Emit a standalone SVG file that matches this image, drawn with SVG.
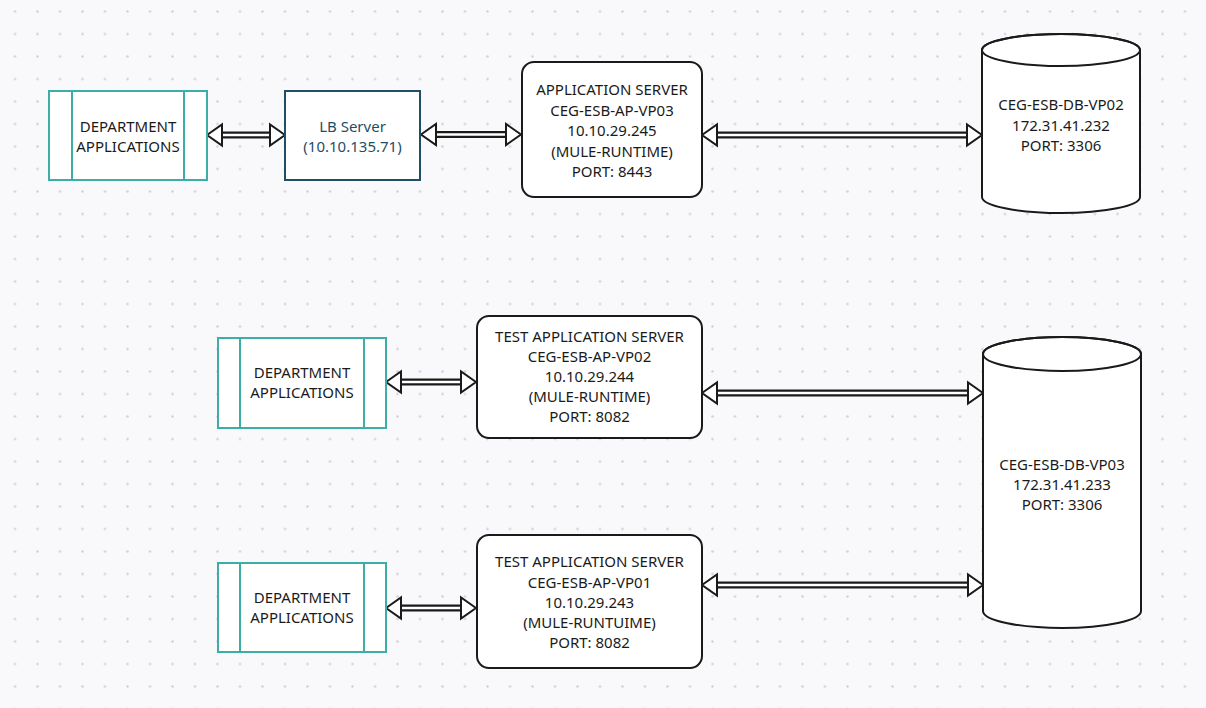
<svg xmlns="http://www.w3.org/2000/svg" width="1206" height="708" viewBox="0 0 1206 708">
<defs>
<pattern id="grid" x="3.75" y="0.25" width="22.5" height="22.5" patternUnits="userSpaceOnUse">
<circle cx="11.25" cy="11.25" r="1.2" fill="#d0d0d6"/>
</pattern>
<style>
.t{font-family:"Noto Sans","Open Sans","DejaVu Sans",sans-serif;font-size:15px;fill:#1a1a1a;text-anchor:middle}
.lb{fill:#1f4e66}
.dept{fill:#fff;stroke:#3aaea7;stroke-width:2}
.deptl{stroke:#3aaea7;stroke-width:2;fill:none}
.srv{fill:#fff;stroke:#1a1a1a;stroke-width:2}
.lbbox{fill:#fff;stroke:#1f4e66;stroke-width:2}
.so{stroke:#1a1a1a;stroke-width:7;fill:none}
.si{stroke:#fff;stroke-width:2.6;fill:none}
.hd{fill:#fff;stroke:#1a1a1a;stroke-width:2;stroke-linejoin:miter}
</style>
</defs>
<rect width="1206" height="708" fill="#f9f9fb"/>
<rect width="1206" height="708" fill="url(#grid)"/>

<g id="connectors">
<g id="c1">
<path class="so" d="M222,135 H270"/><path class="si" d="M221,135 H271"/>
<polygon class="hd" points="207,135 222,124.5 222,145.5"/>
<polygon class="hd" points="285,135 270,124.5 270,145.5"/>
</g>
<g id="c2">
<path class="so" d="M436,134.5 H506"/><path class="si" d="M435,134.5 H507"/>
<polygon class="hd" points="421,134.5 436,124 436,145"/>
<polygon class="hd" points="521,134.5 506,124 506,145"/>
</g>
<g id="c3">
<path class="so" d="M717,135 H967"/><path class="si" d="M716,135 H968"/>
<polygon class="hd" points="702,135 717,124.5 717,145.5"/>
<polygon class="hd" points="982,135 967,124.5 967,145.5"/>
</g>
<g id="c4">
<path class="so" d="M401,382 H461"/><path class="si" d="M400,382 H462"/>
<polygon class="hd" points="386,382 401,371.5 401,392.5"/>
<polygon class="hd" points="476,382 461,371.5 461,392.5"/>
</g>
<g id="c5">
<path class="so" d="M717,393 H968"/><path class="si" d="M716,393 H969"/>
<polygon class="hd" points="702,393 717,382.5 717,403.5"/>
<polygon class="hd" points="983,393 968,382.5 968,403.5"/>
</g>
<g id="c6">
<path class="so" d="M401,608 H461"/><path class="si" d="M400,608 H462"/>
<polygon class="hd" points="386,608 401,597.5 401,618.5"/>
<polygon class="hd" points="476,608 461,597.5 461,618.5"/>
</g>
<g id="c7">
<path class="so" d="M717,585 H968"/><path class="si" d="M716,585 H969"/>
<polygon class="hd" points="702,585 717,574.5 717,595.5"/>
<polygon class="hd" points="983,585 968,574.5 968,595.5"/>
</g>
</g>

<g id="dept1">
<rect class="dept" x="49" y="91" width="158" height="89"/>
<path class="deptl" d="M72,91 V180 M184,91 V180"/>
<text class="t" x="128" y="131.5">DEPARTMENT</text>
<text class="t" x="128" y="151.5">APPLICATIONS</text>
</g>

<g id="lb">
<rect class="lbbox" x="285" y="91" width="135" height="89"/>
<text class="t lb" x="352.5" y="131.5">LB Server</text>
<text class="t lb" x="352.5" y="151.5">(10.10.135.71)</text>
</g>

<g id="app">
<rect class="srv" x="522" y="62" width="180" height="135" rx="12"/>
<text class="t" x="612" y="95">APPLICATION SERVER</text>
<text class="t" x="612" y="115.5">CEG-ESB-AP-VP03</text>
<text class="t" x="612" y="136">10.10.29.245</text>
<text class="t" x="612" y="156.5">(MULE-RUNTIME)</text>
<text class="t" x="612" y="177">PORT: 8443</text>
</g>

<g id="db1">
<path class="srv" d="M982,50 V197 A79,16 0 0 0 1140,197 V50 A79,16 0 0 0 982,50 Z"/>
<ellipse cx="1061" cy="50" rx="79" ry="16" fill="none" stroke="#1a1a1a" stroke-width="2"/>
<text class="t" x="1061" y="110">CEG-ESB-DB-VP02</text>
<text class="t" x="1061" y="130.5">172.31.41.232</text>
<text class="t" x="1061" y="151">PORT: 3306</text>
</g>

<g id="dept2">
<rect class="dept" x="218" y="338" width="168" height="90"/>
<path class="deptl" d="M240,338 V428 M364,338 V428"/>
<text class="t" x="302" y="378">DEPARTMENT</text>
<text class="t" x="302" y="398">APPLICATIONS</text>
</g>

<g id="test1">
<rect class="srv" x="477" y="316" width="225" height="122" rx="12"/>
<text class="t" x="589.5" y="342">TEST APPLICATION SERVER</text>
<text class="t" x="589.5" y="362">CEG-ESB-AP-VP02</text>
<text class="t" x="589.5" y="382">10.10.29.244</text>
<text class="t" x="589.5" y="402">(MULE-RUNTIME)</text>
<text class="t" x="589.5" y="422">PORT: 8082</text>
</g>

<g id="db2">
<path class="srv" d="M983,354 V611 A79,17 0 0 0 1141,611 V354 A79,17 0 0 0 983,354 Z"/>
<ellipse cx="1062" cy="354" rx="79" ry="17" fill="none" stroke="#1a1a1a" stroke-width="2"/>
<text class="t" x="1062" y="470">CEG-ESB-DB-VP03</text>
<text class="t" x="1062" y="490">172.31.41.233</text>
<text class="t" x="1062" y="510">PORT: 3306</text>
</g>

<g id="dept3">
<rect class="dept" x="218" y="563" width="168" height="89"/>
<path class="deptl" d="M240,563 V652 M364,563 V652"/>
<text class="t" x="302" y="603">DEPARTMENT</text>
<text class="t" x="302" y="623">APPLICATIONS</text>
</g>

<g id="test2">
<rect class="srv" x="477" y="535" width="225" height="133" rx="12"/>
<text class="t" x="589.5" y="567">TEST APPLICATION SERVER</text>
<text class="t" x="589.5" y="588">CEG-ESB-AP-VP01</text>
<text class="t" x="589.5" y="608">10.10.29.243</text>
<text class="t" x="589.5" y="628">(MULE-RUNTUIME)</text>
<text class="t" x="589.5" y="648">PORT: 8082</text>
</g>
</svg>
